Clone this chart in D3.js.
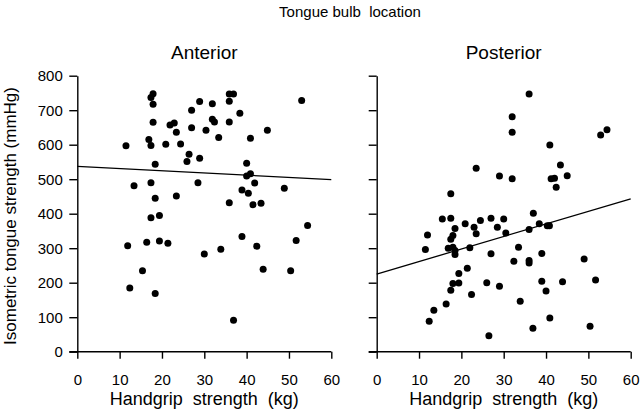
<!DOCTYPE html>
<html><head><meta charset="utf-8">
<script src="https://cdn.jsdelivr.net/npm/d3@7"></script>
<style>body{margin:0;background:#fff}svg{display:block}text{font-family:"Liberation Sans",Arial,sans-serif;fill:#000}</style>
</head><body><svg id="c" width="640" height="412"></svg>
<script>
const panels = ["Anterior", "Posterior"];
const xTicks = [0,10,20,30,40,50,60];
const yTicks = [0,100,200,300,400,500,600,700,800];
const anteriorX = [11.5,17.9,17.4,17.9,17.9,16.9,17.4,20.9,21.9,22.9,23.4,24.4,27.0,27.0,28.9,30.4,31.9,31.9,32.4,33.4,35.9,36.9,35.9,35.9,38.4,40.9,44.9,53.0,26.4,25.9,28.9,18.4,40.0,40.0,40.9,13.4,17.4,28.5,41.9,48.9,38.9,40.4,18.4,23.4,35.9,41.5,43.4,17.4,19.4,11.9,16.4,19.4,21.4,15.4,12.4,18.4,30.0,33.9,38.9,42.4,43.9,50.4,51.7,54.4,36.9];
const anteriorY = [597,748,737,717,665,615,598,601,657,663,636,602,700,649,725,642,719,674,666,621,747,747,726,666,691,619,642,728,572,551,561,543,546,509,516,481,490,490,489,474,469,459,445,451,432,426,430,388,395,307,317,321,314,235,185,169,283,297,334,306,239,235,322,366,91];
const posteriorX = [36.0,32.0,32.0,40.9,52.9,54.4,23.5,29.0,32.0,41.2,42.0,43.4,45.0,42.4,17.5,12.0,11.5,15.5,17.5,18.5,18.0,17.5,16.9,18.0,18.5,18.5,20.9,23.0,23.5,24.5,27.0,28.5,30.0,30.5,22.0,27.0,21.4,19.4,18.0,19.4,17.5,22.4,16.4,13.5,12.4,26.0,29.0,26.5,33.5,32.4,36.0,36.0,36.0,37.0,38.4,40.3,40.8,39.0,39.0,40.0,43.9,33.9,40.9,36.9,49.0,51.7,50.4];
const posteriorY = [747,681,636,599,628,643,532,509,501,501,503,541,510,477,458,338,296,385,387,357,337,326,300,303,293,282,371,361,342,380,387,361,385,344,301,284,242,227,198,199,178,166,138,120,88,200,190,46,303,262,264,257,354,401,371,365,365,285,204,176,203,146,98,68,269,208,74];
const fitX = [0,60];
const anteriorFit = [537,499];
const posteriorFit = [225,443];

const svg = d3.select("#c");
const y = d3.scaleLinear().domain([0,800]).range([351.7,75.7]);
const lefts = [77.3, 376.7];
const data = [
  {name:panels[0], xs:anteriorX, ys:anteriorY, fit:anteriorFit},
  {name:panels[1], xs:posteriorX, ys:posteriorY, fit:posteriorFit}
];
data.forEach((p,i)=>{
  const x = d3.scaleLinear().domain([0,60]).range([lefts[i], lefts[i]+254]);
  const g = svg.append("g");
  const xa = g.append("g").attr("transform",`translate(0,${y(0)})`)
    .call(d3.axisBottom(x).tickValues(xTicks).tickSize(7).tickSizeOuter(0).tickPadding(16));
  xa.select(".domain").remove();
  g.append("line").attr("x1",lefts[i]-8).attr("x2",x(60)).attr("y1",y(0)).attr("y2",y(0)).attr("stroke","#000").attr("stroke-width",1.4);
  xa.selectAll("line").attr("stroke-width",1.4);
  xa.selectAll("text").style("font-size","15px");
  const ya = g.append("g").attr("transform",`translate(${lefts[i]},0)`)
    .call(d3.axisLeft(y).tickValues(yTicks).tickSize(8).tickSizeOuter(0).tickPadding(6.5));
  ya.select(".domain").attr("stroke-width",1.4);
  ya.selectAll("line").attr("stroke-width",1.4);
  ya.selectAll("text").style("font-size","15px");
  if(i===1) ya.selectAll("text").remove();
  g.append("line").attr("x1",x(fitX[0])).attr("x2",x(fitX[1])).attr("y1",y(p.fit[0])).attr("y2",y(p.fit[1])).attr("stroke","#000").attr("stroke-width",1.3);
  g.selectAll("circle").data(p.xs.map((v,k)=>[v,p.ys[k]])).join("circle")
    .attr("cx",d=>x(d[0])).attr("cy",d=>y(d[1])).attr("r",3.5).attr("fill","#000");
  g.append("text").attr("x",(x(0)+x(60))/2).attr("y",59).attr("text-anchor","middle").style("font-size","19px").text(p.name);
  g.append("text").attr("x",(x(0)+x(60))/2).attr("y",405).attr("text-anchor","middle").style("font-size","18px").style("word-spacing","5px").text("Handgrip strength (kg)");
});
svg.append("text").attr("x",350).attr("y",17).attr("text-anchor","middle").style("font-size","15px").style("white-space","pre").text("Tongue bulb  location");
svg.append("text").attr("transform","translate(15.5,216) rotate(-90)").attr("text-anchor","middle").style("font-size","17px").text("Isometric tongue strength (mmHg)");
</script></body></html>
